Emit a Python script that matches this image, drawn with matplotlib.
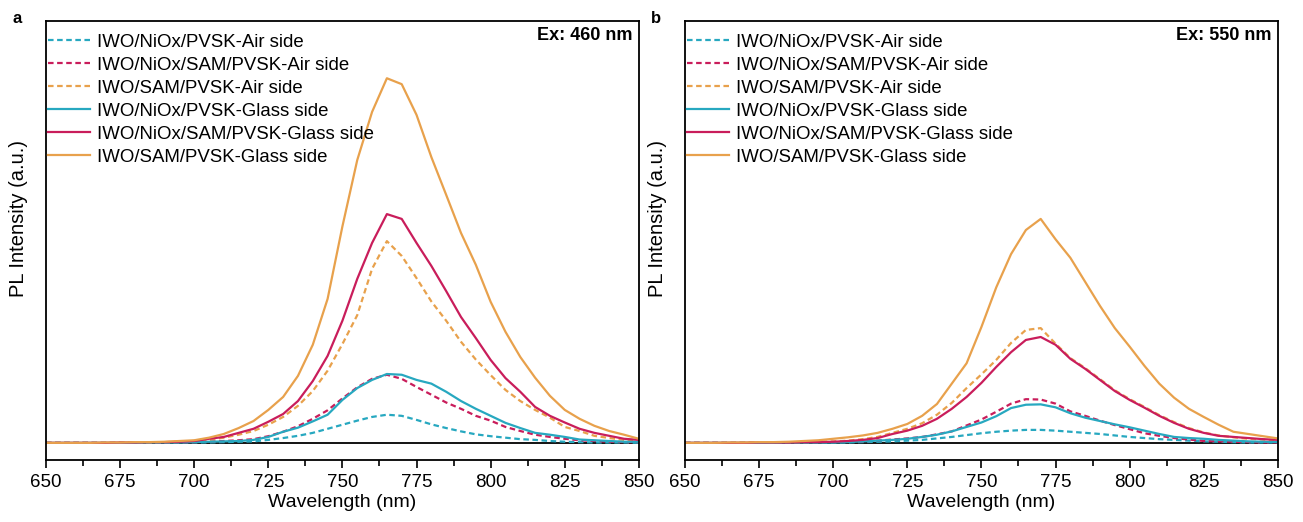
import numpy as np
import matplotlib.pyplot as plt
from matplotlib.ticker import MultipleLocator

plt.rcParams['font.family'] = ['Liberation Sans', 'DejaVu Sans']

# wavelength grid (nm)
wl = np.arange(650, 851, 5)

labels = ['IWO/NiOx/PVSK-Air side', 'IWO/NiOx/SAM/PVSK-Air side', 'IWO/SAM/PVSK-Air side',
          'IWO/NiOx/PVSK-Glass side', 'IWO/NiOx/SAM/PVSK-Glass side', 'IWO/SAM/PVSK-Glass side']

# panel a, Ex: 460 nm
a_cyan_air = [0, 0, 0, 0, 0, 0, 0, 0, 0, 1, 1, 1, 2, 3, 4, 8, 13, 19, 27, 38, 49,
              60, 70, 76, 73, 62, 50, 40, 31, 23, 18, 14, 10, 8, 5, 3, 2, 1, 1, 1, 0]
a_mag_air = [0, 0, 0, 0, 0, 0, 1, 1, 1, 1, 2, 3, 5, 7, 10, 18, 30, 45, 65, 88, 120,
             150, 173, 184, 173, 151, 130, 109, 92, 73, 60, 43, 32, 22, 16, 11, 7, 5, 3, 2, 2]
a_org_air = [0, 0, 0, 0, 0, 1, 1, 1, 2, 3, 4, 8, 14, 22, 32, 49, 70, 100, 140, 195, 267,
             345, 470, 545, 505, 445, 382, 330, 273, 225, 183, 143, 113, 89, 68, 43, 32, 19, 13, 8, 5]
a_cyan_glass = [0, 0, 0, 0, 0, 0, 0, 1, 1, 1, 2, 3, 4, 5, 8, 16, 30, 41, 58, 76, 116,
                148, 170, 186, 184, 170, 160, 138, 113, 92, 73, 54, 40, 27, 22, 16, 9, 7, 5, 3, 3]
a_mag_glass = [0, 0, 0, 0, 0, 1, 1, 2, 2, 3, 5, 11, 16, 27, 38, 57, 78, 113, 167, 235, 330,
               443, 540, 618, 605, 540, 478, 410, 340, 283, 224, 175, 138, 97, 73, 55, 38, 27, 19, 11, 8]
a_org_glass = [0, 0, 0, 0, 1, 1, 2, 2, 3, 5, 7, 14, 24, 40, 59, 89, 124, 181, 265, 389, 585,
               764, 894, 985, 969, 886, 772, 670, 567, 481, 381, 300, 232, 176, 127, 89, 65, 46, 32, 22, 11]

# panel b, Ex: 550 nm
b_cyan_air = [0, 0, 0, 0, 0, 0, 0, 0, 1, 1, 1, 1, 2, 3, 4, 6, 8, 12, 16, 21, 26,
              30, 33, 35, 35, 33, 30, 27, 24, 20, 16, 13, 10, 8, 6, 4, 3, 2, 1, 1, 1]
b_mag_air = [0, 0, 0, 0, 0, 1, 1, 1, 1, 2, 2, 3, 4, 6, 9, 12, 16, 23, 31, 47, 63,
             84, 106, 118, 117, 106, 85, 73, 60, 48, 37, 26, 19, 13, 9, 5, 4, 3, 2, 1, 1]
b_org_air = [0, 0, 0, 0, 1, 1, 1, 2, 2, 3, 4, 6, 10, 16, 27, 38, 53, 76, 108, 148, 185,
             224, 270, 305, 310, 268, 229, 202, 172, 142, 118, 97, 75, 56, 40, 28, 20, 15, 11, 9, 7]
b_cyan_glass = [0, 0, 0, 0, 0, 0, 0, 1, 1, 1, 1, 2, 4, 6, 8, 11, 16, 22, 31, 43, 55,
                72, 94, 103, 104, 96, 80, 68, 59, 50, 42, 33, 24, 16, 13, 11, 8, 6, 4, 3, 2]
b_mag_glass = [0, 0, 0, 0, 0, 1, 1, 1, 2, 2, 3, 5, 8, 13, 24, 33, 46, 65, 92, 124, 162,
               205, 245, 278, 286, 265, 227, 200, 170, 140, 116, 95, 73, 54, 38, 27, 19, 16, 13, 10, 8]
b_org_glass = [0, 0, 0, 1, 1, 2, 2, 3, 5, 7, 11, 15, 20, 27, 38, 51, 73, 105, 160, 215, 313,
               420, 510, 575, 605, 550, 500, 435, 370, 310, 260, 208, 160, 122, 92, 70, 49, 30, 24, 18, 12]

cyan = '#27a8c0'
magenta = '#c91d5b'
orange = '#e8a14c'
colors = [cyan, magenta, orange, cyan, magenta, orange]
styles = [(0, (2.5, 1.6))] * 3 + ['-'] * 3

panels = [
    ('a', 'Ex: 460 nm', [a_cyan_air, a_mag_air, a_org_air, a_cyan_glass, a_mag_glass, a_org_glass]),
    ('b', 'Ex: 550 nm', [b_cyan_air, b_mag_air, b_org_air, b_cyan_glass, b_mag_glass, b_org_glass]),
]

fig = plt.figure(figsize=(13.03, 5.22), dpi=100)
lefts = [0.0353, 0.5257]
for (tag, ex, series), left in zip(panels, lefts):
    ax = fig.add_axes([left, 0.119, 0.455, 0.841])
    ax.axhline(0, color='black', lw=1.3, zorder=1)
    for y, c, ls, lab in zip(series, colors, styles, labels):
        ax.plot(wl, y, color=c, ls=ls, lw=1.6, label=lab)
    ax.set_xlim(650, 850)
    ax.set_ylim(-46, 1140)
    ax.xaxis.set_major_locator(MultipleLocator(25))
    ax.xaxis.set_minor_locator(MultipleLocator(12.5))
    ax.tick_params(axis='x', which='major', direction='out', length=6, width=1.2, labelsize=13.5, pad=4)
    ax.tick_params(axis='x', which='minor', direction='out', length=4, width=1.2)
    ax.set_yticks([])
    for s in ax.spines.values():
        s.set_linewidth(1.3)
    ax.set_xlabel('Wavelength (nm)', fontsize=14, labelpad=2)
    ax.set_ylabel('PL Intensity (a.u.)', fontsize=14.5)
    ax.yaxis.set_label_coords(-0.031, 0.55)
    ax.text(0.99, 0.985, ex, transform=ax.transAxes, ha='right', va='top',
            fontsize=13, fontweight='bold')
    ax.legend(loc='upper left', bbox_to_anchor=(0.0, 0.975), frameon=False, fontsize=13.4,
              handlelength=2.25, handletextpad=0.38, labelspacing=0.32,
              borderaxespad=0.0, borderpad=0.1)
    fig.text(left - 0.022, 0.965, tag, fontsize=12, fontweight='bold', ha='center', va='center')

fig.savefig('out.png', dpi=100)
